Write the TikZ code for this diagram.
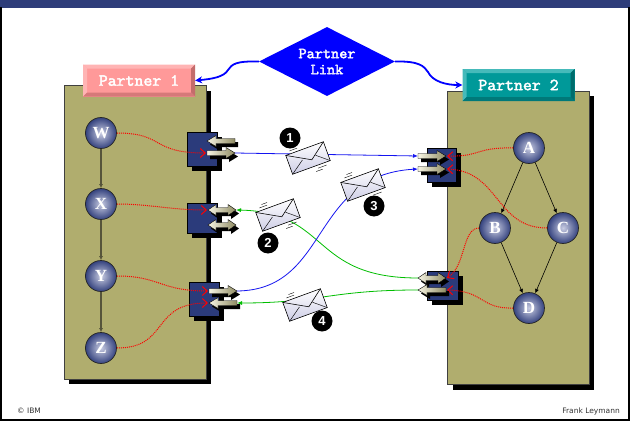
\documentclass[tikz,border=0pt]{standalone}
\usepackage{fontspec}
\setmainfont{Liberation Serif}
\setsansfont{DejaVu Sans}
\newfontfamily\lblfont{lmmono10-regular.otf}[FakeBold=2.2]
\newfontfamily\numfont{Liberation Sans}
\usetikzlibrary{shapes.geometric,arrows.meta,shadows}

\definecolor{topbar}{HTML}{2E3D7A}
\definecolor{panel}{HTML}{B0AD6E}
\definecolor{portblue}{HTML}{2B3B7B}
\definecolor{pinklbl}{HTML}{FF9999}
\definecolor{pinklight}{HTML}{FFB4B4}
\definecolor{pinkdark}{HTML}{C46C6C}
\definecolor{teallbl}{HTML}{009999}
\definecolor{teallight}{HTML}{45BABA}
\definecolor{tealdark}{HTML}{006C6C}
\definecolor{arrlight}{HTML}{F7F5E4}
\definecolor{arrdark}{HTML}{8F8B62}
\definecolor{msgblue}{HTML}{1414F0}
\definecolor{msggreen}{HTML}{00BE00}
\definecolor{actout}{HTML}{34427E}
\definecolor{actin}{HTML}{C8CCE2}
\definecolor{envtint}{HTML}{CDCDE6}
\definecolor{seqline}{HTML}{56543A}

\tikzset{
  act/.style={circle, minimum size=31pt, inner sep=0pt, draw=black!85, line width=0.7pt,
    inner color=actin, outer color=actout, text=white,
    font=\rmfamily\bfseries\fontsize{17}{17}\selectfont},
  lbl/.style n args={3}{rectangle, minimum width=112pt, minimum height=32pt, inner sep=0pt,
    fill=#1, text=white, font=\lblfont\fontsize{17}{17}\selectfont,
    path picture={
      \fill[#2] (path picture bounding box.north west) -- (path picture bounding box.north east)
        -- ([shift={(-4,4)}]path picture bounding box.north east) -- ([shift={(4,4)}]path picture bounding box.north west) -- cycle;
      \fill[#2] (path picture bounding box.north west) -- (path picture bounding box.south west)
        -- ([shift={(4,-4)}]path picture bounding box.south west) -- ([shift={(4,4)}]path picture bounding box.north west) -- cycle;
      \fill[#3] (path picture bounding box.north east) -- (path picture bounding box.south east)
        -- ([shift={(-4,-4)}]path picture bounding box.south east) -- ([shift={(-4,4)}]path picture bounding box.north east) -- cycle;
      \fill[#3!70!#1] (path picture bounding box.south west) -- (path picture bounding box.south east)
        -- ([shift={(-4,-4)}]path picture bounding box.south east) -- ([shift={(4,-4)}]path picture bounding box.south west) -- cycle;
    }},
  link/.style={diamond, aspect=2, fill=blue, inner sep=0pt, minimum width=136pt, minimum height=69pt,
    align=center, text=white, font=\lblfont\fontsize{15.5}{16}\selectfont},
  linkarrow/.style={blue, line width=1.8pt, -{Stealth[length=7pt,width=7pt]}},
  portbox/.style={rectangle, inner sep=0pt, fill=portblue, draw=black, line width=0.6pt,
    drop shadow={shadow xshift=5pt, shadow yshift=-5pt, opacity=1, fill=black}},
  seq/.style={seqline, line width=1.3pt, -{Latex[length=4pt,width=4pt]}},
  dep/.style={black, line width=0.6pt, -{Latex[length=4.5pt,width=4pt]}},
  wire/.style={red, densely dotted, line width=1pt, -{Straight Barb[length=5pt,width=9pt,line width=1pt]}},
  msgb/.style={msgblue, line width=0.8pt, -{Latex[length=5pt,width=4pt]}},
  msgg/.style={msggreen, line width=0.8pt, -{Latex[length=5pt,width=4pt]}},
  badge/.style={circle, fill=black, text=white, minimum size=21pt, inner sep=0pt,
    font=\numfont\bfseries\fontsize{13}{13}\selectfont},
  footer/.style={inner sep=0pt, text=black!80, font=\sffamily\fontsize{7.5}{7.5}\selectfont},
  arrR/.style={insert path={(0,-2.5) -- (19,-2.5) -- (19,-5.5) -- (28,0) -- (19,5.5) -- (19,2.5) -- (0,2.5) -- cycle}},
  arrL/.style={insert path={(28,-2.5) -- (9,-2.5) -- (9,-5.5) -- (0,0) -- (9,5.5) -- (9,2.5) -- (28,2.5) -- cycle}},
  arrD/.style={insert path={(0,0) -- (8,-5.5) -- (8,-2.5) -- (20,-2.5) -- (20,-5.5) -- (28,0) -- (20,5.5) -- (20,2.5) -- (8,2.5) -- (8,5.5) -- cycle}},
  pics/parrow/.style={code={
    \fill[black, shift={(3,3.5)}, #1];
    \shade[draw=black, line width=0.4pt, left color=arrlight, right color=arrdark, #1];
  }},
  pics/envelope/.style={code={
    \shade[draw=black, line width=0.6pt, top color=white, bottom color=envtint] (-20,-10) rectangle (20,10);
    \draw[line width=0.6pt] (-20,-10) -- (3,3) -- (20,-10);
    \draw[line width=0.45pt] (-20,10) -- (-6,0) (20,10) -- (8,0);
    \draw[line width=0.4pt] (-15,-13) -- (-7,-13) (-12,-15.5) -- (-6,-15.5)
      (6,13) -- (15,13) (3,15.5) -- (10,15.5);
  }},
}

\begin{document}
\begin{tikzpicture}[x=1pt,y=-1pt]
    \useasboundingbox (0,0) rectangle (630,423);
    \fill[white] (0,0) rectangle (630,423);
    \fill[topbar] (0,0) rectangle (630,7.5);
    \draw[black, line width=2pt] (1,7) -- (1,420) -- (628.5,420) -- (628.5,7);

    % the two partner processes
    \fill[black] (69,91) rectangle (211,384);
    \filldraw[fill=panel, draw=black!75, line width=0.6pt] (64,85) rectangle (206,379);
    \fill[black] (453,96) rectangle (594,390);
    \filldraw[fill=panel, draw=black!75, line width=0.6pt] (447,91) rectangle (589,384);

    \node[lbl={pinklbl}{pinklight}{pinkdark}] (part1) at (139,80.5) {Partner 1};
    \node[lbl={teallbl}{teallight}{tealdark}] (part2) at (518.5,85) {Partner 2};

    \node[link] (plink) at (327,61.5) {Partner\\Link};
    \draw[linkarrow] (plink.west) .. controls (236,61) and (232,64) .. (228,70)
        .. controls (224,77) and (212,79) .. (part1.east);
    \draw[linkarrow] (plink.east) .. controls (419,61) and (424,66) .. (428,72)
        .. controls (433,82) and (447,85) .. (part2.west);

    % activities
    \node[act] (W) at (101,133) {W};
    \node[act] (X) at (101,204) {X};
    \node[act] (Y) at (101,276) {Y};
    \node[act] (Z) at (101,348) {Z};
    \node[act] (A) at (529,148) {A};
    \node[act] (B) at (495,228) {B};
    \node[act] (C) at (563,228) {C};
    \node[act] (D) at (529,308) {D};

    \draw[seq] (W) -- (X);
    \draw[seq] (X) -- (Y);
    \draw[seq] (Y) -- (Z);
    \draw[dep] (A) -- (B);
    \draw[dep] (A) -- (C);
    \draw[dep] (B) -- (D);
    \draw[dep] (C) -- (D);

    % ports
    \node[portbox, minimum width=30pt, minimum height=34pt] (lp1) at (202,149) {};
    \node[portbox, minimum width=30pt, minimum height=30pt] (lp2) at (202,218) {};
    \node[portbox, minimum width=30pt, minimum height=34pt] (lp3) at (204,299) {};
    \node[portbox, minimum width=29pt, minimum height=34pt] (rp1) at (441.5,165) {};
    \node[portbox, minimum width=31pt, minimum height=29pt] (rp2) at (442.5,285.5) {};

    \foreach \n/\x/\y in {l1a/207/141, l1b/207/153, l2a/208/210, l2b/208/225, l3a/209/291, l3b/209/303}{
        \coordinate (\n) at (\x,\y);
        \coordinate (\n-o) at (\x+28,\y);
    }
    \foreach \n/\y in {r1a/156, r1b/169, r2a/278, r2b/290}{
        \coordinate (\n) at (446,\y);
        \coordinate (\n-o) at (418,\y);
    }

    % wiring of activities to ports
    \draw[wire] (W.east) .. controls (165,133) and (150,153) .. ([xshift=-1pt]l1b);
    \draw[wire] (X.east) .. controls (150,204) and (170,210) .. ([xshift=-1pt]l2a);
    \draw[wire] (Y.east) .. controls (160,276) and (160,291) .. ([xshift=-1pt]l3a);
    \draw[wire] (Z.east) .. controls (170,348) and (150,303) .. ([xshift=-1pt]l3b);
    \draw[wire] (A.west) .. controls (476,147) and (480,157) .. ([xshift=1pt]r1a);
    \draw[wire] (C.west) .. controls (495,228) and (500,171) .. ([xshift=1pt]r1b);
    \draw[wire] (B.west) .. controls (462,228) and (466,266) .. ([xshift=1pt]r2a);
    \draw[wire] (D.west) .. controls (480,309) and (485,291) .. ([xshift=1pt]r2b);

    \pic at (l1a) {parrow=arrL};
    \pic at (l1b) {parrow=arrR};
    \pic at (l2a) {parrow=arrD};
    \pic at (l2b) {parrow=arrD};
    \pic at (l3a) {parrow=arrR};
    \pic at (l3b) {parrow=arrL};
    \pic at (r1a-o) {parrow=arrR};
    \pic at (r1b-o) {parrow=arrR};
    \pic at (r2a-o) {parrow=arrD};
    \pic at (r2b-o) {parrow=arrL};

    % message exchange
    \draw[msgb] (l1b-o) -- (r1a-o);
    \draw[msgg] (r2a-o) .. controls (310,278) and (330,212) .. (l2a-o);
    \draw[msgb] (l3a-o) .. controls (330,290) and (310,175) .. (r1b-o);
    \draw[msgg] (r2b-o) .. controls (330,290) and (320,303) .. (l3b-o);

    \pic[rotate=20] at (308,158) {envelope};
    \pic[rotate=20] at (278,215) {envelope};
    \pic[rotate=20] at (363,185) {envelope};
    \pic[rotate=20] at (305,305) {envelope};

    \node[badge] (n1) at (290,138) {1};
    \node[badge] (n2) at (268,243) {2};
    \node[badge] (n3) at (374,206) {3};
    \node[badge] (n4) at (322,321) {4};

    \node[footer, anchor=west] (ibm) at (17,411) {© IBM};
    \node[footer, anchor=east] (author) at (620,411) {Frank Leymann};
\end{tikzpicture}
\end{document}
